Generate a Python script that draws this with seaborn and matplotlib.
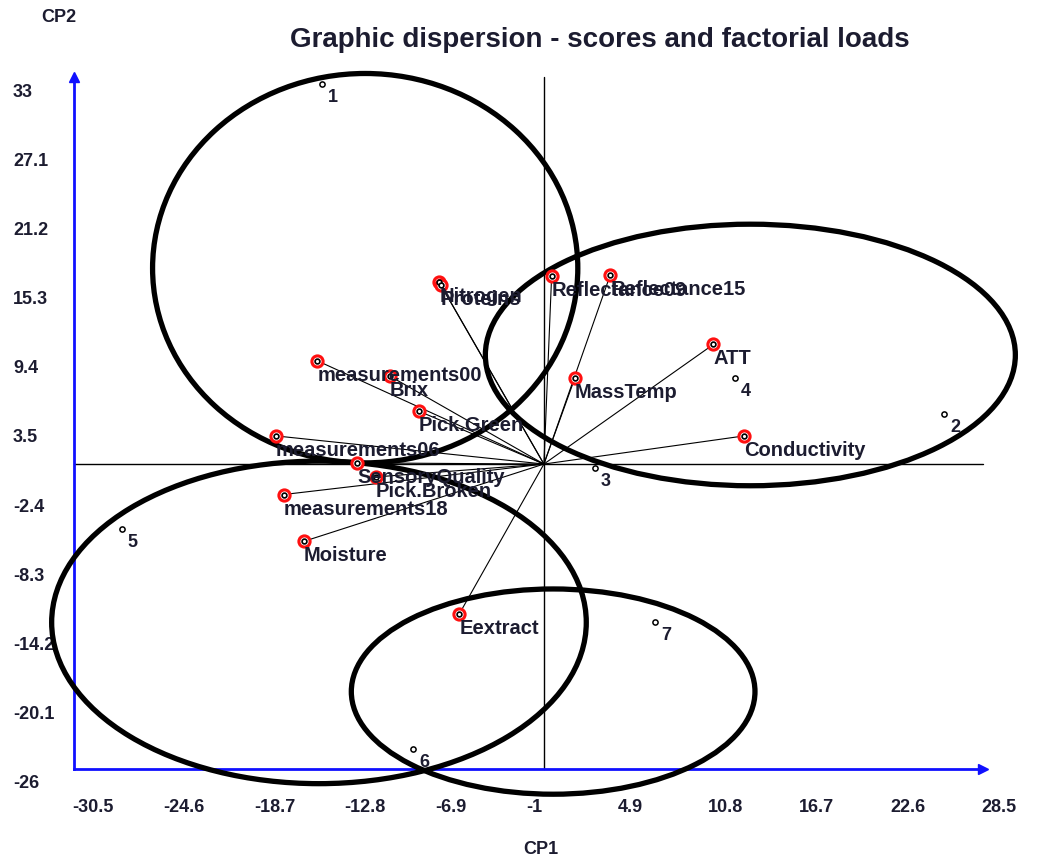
"""Biplot: PCA scores, factorial loads and group ellipses."""
import matplotlib
matplotlib.use("Agg")
import matplotlib.pyplot as plt
import matplotlib.transforms as mtransforms
from matplotlib.patches import Ellipse
import pandas as pd
import seaborn as sns

# ── Data ──────────────────────────────────────────────────────────────────────
score_labels = ["1", "2", "3", "4", "5", "6", "7"]
score_x = [-14.4, 26.0, 3.3, 12.4, -27.4, -8.5, 7.2]
score_y = [32.4, 4.3, -0.3, 7.3, -5.5, -24.3, -13.5]

load_labels = ["Nitrogen", "Proteins", "Reflectance09", "Reflectance15", "ATT",
               "MassTemp", "Conductivity", "measurements00", "Brix", "Pick.Green",
               "measurements06", "SensoryQuality", "Pick.Broken",
               "measurements18", "Moisture", "Eextract"]
load_x = [-6.8, -6.7, 0.5, 4.3, 11.0, 2.0, 13.0, -14.7, -10.0, -8.1,
          -17.4, -12.1, -10.9, -16.9, -15.6, -5.5]
load_y = [15.5, 15.3, 16.0, 16.1, 10.2, 7.3, 2.4, 8.8, 7.5, 4.5,
          2.4, 0.1, -1.1, -2.6, -6.6, -12.8]

ell_cx = [-11.6, 13.4, -14.6, 0.6]
ell_cy = [16.7, 9.3, -13.5, -19.4]
ell_w = [27.6, 34.4, 34.7, 26.2]
ell_h = [33.2, 22.3, 27.5, 17.5]

x_ticks = [-30.5, -24.6, -18.7, -12.8, -6.9, -1, 4.9, 10.8, 16.7, 22.6, 28.5]
y_ticks = [-26, -20.1, -14.2, -8.3, -2.4, 3.5, 9.4, 15.3, 21.2, 27.1, 33]

scores = pd.DataFrame({"x": score_x, "y": score_y, "label": score_labels})
loads = pd.DataFrame({"x": load_x, "y": load_y, "label": load_labels})

# ── Style ─────────────────────────────────────────────────────────────────────
sns.set_theme(style="white")
plt.rcParams["font.family"] = ["Liberation Sans", "DejaVu Sans"]
plt.rcParams["font.weight"] = "bold"

TXT = "#1c1c30"
BLUE = "#1010ff"

fig = plt.figure(figsize=(10.42, 8.62), dpi=100)
ax = fig.add_axes([74 / 1042, 92 / 862, 909 / 1042, 692 / 862])
ax.set_xlim(x_ticks[0], x_ticks[-1])
ax.set_ylim(y_ticks[0], y_ticks[-1])
ax.patch.set_alpha(0)

for side in ("top", "right"):
    ax.spines[side].set_visible(False)
for side in ("left", "bottom"):
    ax.spines[side].set_color(BLUE)
    ax.spines[side].set_linewidth(2)
ax.set_xticks(x_ticks)
ax.set_yticks(y_ticks)
ax.tick_params(direction="inout", length=14, width=1.2, color="#3a7bff",
               labelbottom=False, labelleft=False)
ax.plot([x_ticks[-1]], [y_ticks[0]], marker=">", color=BLUE, ms=7, clip_on=False)
ax.plot([x_ticks[0]], [y_ticks[-1]], marker="^", color=BLUE, ms=7, clip_on=False)

# tick labels, left aligned on the tick like the original software
xlab_tr = mtransforms.offset_copy(ax.get_xaxis_transform(), fig=fig,
                                  x=-2, y=-29, units="dots")
for t in x_ticks:
    ax.text(t, 0, f"{t:g}", transform=xlab_tr, ha="left", va="top",
            fontsize=13, color=TXT, fontweight="bold")
for t in y_ticks:
    ax.annotate(f"{t:g}", xy=(13, t), xycoords=("figure pixels", "data"),
                xytext=(0, -14), textcoords="offset pixels",
                ha="left", va="center", fontsize=13, color=TXT,
                fontweight="bold", annotation_clip=False)

# ── Origin cross ──────────────────────────────────────────────────────────────
ax.plot([x_ticks[0], x_ticks[-1]], [0, 0], color="black", lw=1, clip_on=False)
ax.plot([0, 0], [y_ticks[0], y_ticks[-1]], color="black", lw=1, clip_on=False)

# ── Load vectors ──────────────────────────────────────────────────────────────
for _, r in loads.iterrows():
    ax.plot([0, r.x], [0, r.y], color="black", lw=0.8)

# ── Ellipses ──────────────────────────────────────────────────────────────────
for cx, cy, w, h in zip(ell_cx, ell_cy, ell_w, ell_h):
    ax.add_patch(Ellipse((cx, cy), w, h, fill=False, ec="black", lw=3.8,
                         clip_on=False, zorder=3))

# ── Points ────────────────────────────────────────────────────────────────────
sns.scatterplot(data=loads, x="x", y="y", s=65, facecolor="white",
                edgecolor="#ff1010", linewidth=2.2, ax=ax, zorder=4)
sns.scatterplot(data=loads, x="x", y="y", s=12, facecolor="white",
                edgecolor="black", linewidth=1.2, ax=ax, zorder=5)
sns.scatterplot(data=scores, x="x", y="y", s=14, facecolor="white",
                edgecolor="black", linewidth=1.1, ax=ax, zorder=5)

for _, r in loads.iterrows():
    ax.annotate(r.label, (r.x, r.y), xytext=(0, -4), textcoords="offset pixels",
                ha="left", va="top", fontsize=14.5, color=TXT,
                fontweight="bold", zorder=6)
for _, r in scores.iterrows():
    ax.annotate(r.label, (r.x, r.y), xytext=(6, -4), textcoords="offset pixels",
                ha="left", va="top", fontsize=13, color=TXT,
                fontweight="bold", zorder=6)

ax.set_xlabel("")
ax.set_ylabel("")
fig.text(600 / 1042, 1 - 40 / 862, "Graphic dispersion - scores and factorial loads",
         ha="center", va="center", fontsize=20, fontweight="bold", color=TXT)
fig.text(59 / 1042, 1 - 17 / 862, "CP2", ha="center", va="center",
         fontsize=13, fontweight="bold", color=TXT)
fig.text(541 / 1042, 1 - 850 / 862, "CP1", ha="center", va="center",
         fontsize=13, fontweight="bold", color=TXT)

fig.savefig("out.png", dpi=100)
